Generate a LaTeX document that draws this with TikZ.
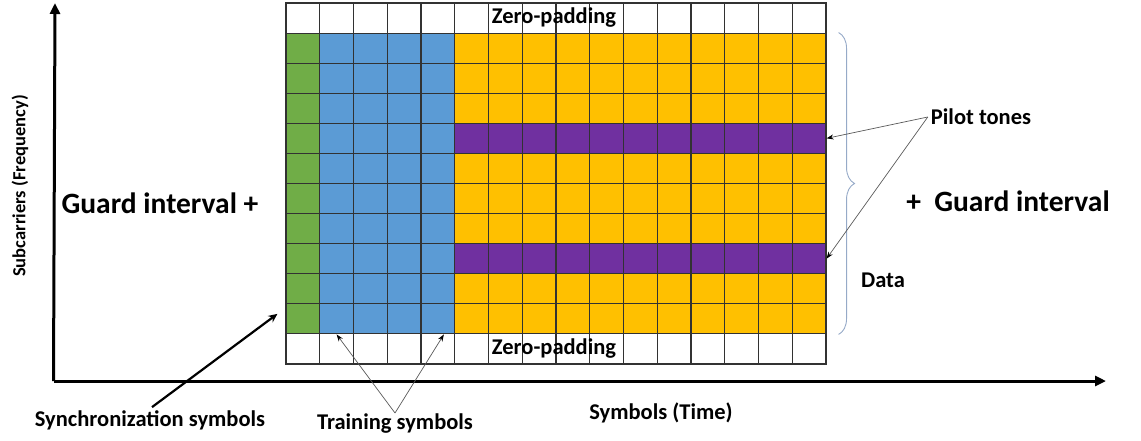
\documentclass[tikz,border=0pt]{standalone}
\usepackage{fontspec}
\setmainfont{Carlito}
\usepackage{xcolor}
\usetikzlibrary{arrows.meta,decorations.pathreplacing}
\definecolor{ofdmGreen}{RGB}{112, 173, 71}
\definecolor{ofdmBlue}{RGB}{91, 155, 213}
\definecolor{ofdmYellow}{RGB}{255, 192, 0}
\definecolor{ofdmPurple}{RGB}{112, 48, 160}
\definecolor{ofdmGrid}{RGB}{50, 50, 50}
\definecolor{ofdmBrace}{RGB}{150, 170, 200}
\tikzset{
  cell/.style={draw=ofdmGrid, line width=1.1pt, fill=white, minimum width=33.75pt, minimum height=30.08pt, inner sep=0pt},
  lbl/.style={font=\bfseries\fontsize{22.5}{26}\selectfont, inner sep=1pt},
  biglbl/.style={font=\bfseries\fontsize{29.5}{33}\selectfont, inner sep=1pt},
  thin arrow/.style={draw=black!65, line width=0.7pt, -{Stealth[length=7pt,width=5pt,black]}}
}
\begin{document}
\begin{tikzpicture}[x=1pt, y=-1pt]
            \useasboundingbox (0,0) rectangle (1141,440);

            % Zero-padding rows
            \foreach \c in {0,...,15} {
              \node[cell] (c-0-\c) at ({286+33.75*(\c+0.5)},{3+30.08*0.5}) {};
              \node[cell] (c-11-\c) at ({286+33.75*(\c+0.5)},{3+30.08*11.5}) {};
            }

            % Synchronization, training and data symbols
            \foreach \r in {1,...,10} {
              \node[cell, fill=ofdmGreen] (c-\r-0) at ({286+33.75*0.5},{3+30.08*(\r+0.5)}) {};
              \foreach \c in {1,...,4}
                \node[cell, fill=ofdmBlue] (c-\r-\c) at ({286+33.75*(\c+0.5)},{3+30.08*(\r+0.5)}) {};
              \foreach \c in {5,...,15}
                \node[cell, fill=ofdmYellow] (c-\r-\c) at ({286+33.75*(\c+0.5)},{3+30.08*(\r+0.5)}) {};
            }

            % Pilot tones
            \foreach \r in {4,8}
              \foreach \c in {5,...,15}
                \node[cell, fill=ofdmPurple] (c-\r-\c) at ({286+33.75*(\c+0.5)},{3+30.08*(\r+0.5)}) {};

            \node[lbl] (zpTop) at (554,18) {Zero-padding};
            \node[lbl] (zpBot) at (554,349) {Zero-padding};

            % Axes
            \coordinate (origin) at (55,381);
            \coordinate (yEnd) at (55,3);
            \coordinate (xEnd) at (1106,381);
            \draw[line width=3pt, -{Triangle[length=11pt,width=10pt]}] ([xshift=-1.5pt]origin) -- (yEnd);
            \draw[line width=3pt, -{Triangle[length=11pt,width=10pt]}] ([xshift=-1.5pt]origin) -- (xEnd);

            \node[lbl, rotate=90, font=\bfseries\fontsize{18.5}{22}\selectfont] (yLabel) at (20,186) {Subcarriers (Frequency)};
            \node[lbl] (xLabel) at (661,413) {Symbols (Time)};

            % Guard intervals
            \node[biglbl] (guardL) at (160,203) {Guard interval +};
            \node[biglbl] (guardR) at (1008,201) {+\ \ Guard interval};

            % Data brace
            \coordinate (braceTop) at ([xshift=12pt]c-1-15.north east);
            \coordinate (braceBot) at ([xshift=12pt]c-10-15.south east);
            \draw[ofdmBrace, line width=0.9pt, decorate, decoration={brace, amplitude=16pt}] (braceTop) -- (braceBot);
            \node[lbl] (data) at (883,280) {Data};

            % Pilot tones labels
            \node[lbl] (pilot) at (981,117) {Pilot tones};
            \draw[thin arrow] ([xshift=-2pt]pilot.west) -- (c-4-15.east);
            \draw[thin arrow] ([xshift=-2pt]pilot.west) -- (c-8-15.east);

            % Training symbols
            \node[lbl] (train) at (395,424) {Training symbols};
            \draw[thin arrow] (train.north) -- (c-10-1.south);
            \draw[thin arrow] (train.north) -- ([xshift=6pt]c-10-4.south);

            % Synchronization symbols
            \node[lbl] (sync) at (150,420) {Synchronization symbols};
            \draw[line width=2.2pt, -{Stealth[length=9pt,width=8pt]}] ([xshift=2pt,yshift=2pt]sync.north) -- ([xshift=-8pt,yshift=5pt]c-10-0.west);
        \end{tikzpicture}
\end{document}
